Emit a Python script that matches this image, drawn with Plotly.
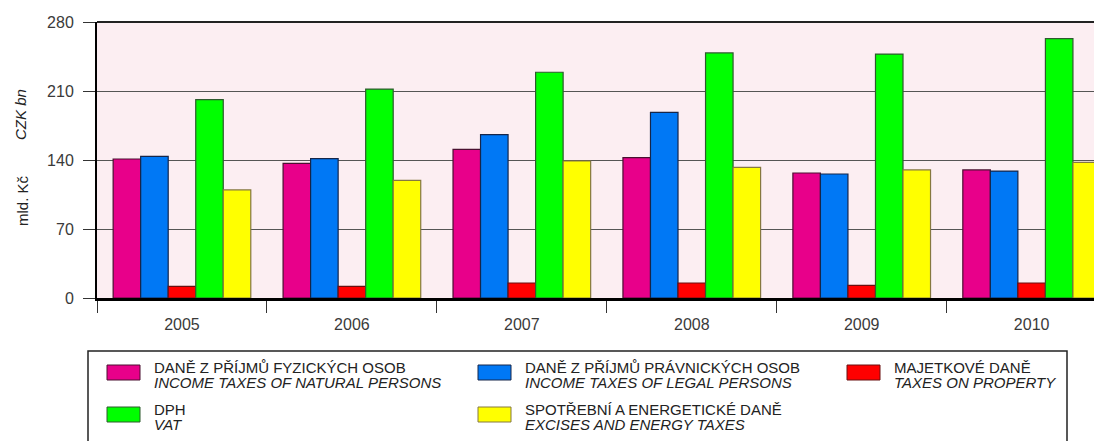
import plotly.graph_objects as go

# ---- data ----
years = ["2005", "2006", "2007", "2008", "2009", "2010"]
pit = [141.0, 136.6, 150.8, 142.4, 126.8, 129.9]       # income taxes of natural persons
cit = [143.7, 141.4, 165.7, 188.4, 125.8, 128.8]       # income taxes of legal persons
prop = [11.8, 11.8, 15.2, 15.2, 12.9, 15.2]            # taxes on property
vat = [201.2, 212.0, 229.0, 248.6, 247.5, 263.1]       # VAT
excise = [109.6, 119.4, 139.0, 132.6, 129.9, 137.6]    # excises and energy taxes

names_cz = ["DANĚ Z PŘÍJMŮ FYZICKÝCH OSOB", "DANĚ Z PŘÍJMŮ PRÁVNICKÝCH OSOB",
            "MAJETKOVÉ DANĚ", "DPH", "SPOTŘEBNÍ A ENERGETICKÉ DANĚ"]
names_en = ["INCOME TAXES OF NATURAL PERSONS", "INCOME TAXES OF LEGAL PERSONS",
            "TAXES ON PROPERTY", "VAT", "EXCISES AND ENERGY TAXES"]
y_ticks = [0, 70, 140, 210, 280]

series = [pit, cit, prop, vat, excise]
colors = ["#E8008A", "#0078F5", "#FF0000", "#00FF00", "#FFFF00"]
outlines = ["#4a1030", "#16264a", "#6a1010", "#2e5a2e", "#857840"]

OFF = 8  # page body margin
W, H = 1102 - OFF, 441 - OFF
L, R, T, B = 97 - OFF, 0, 22 - OFF, 143
PW, PH = W - L - R, H - T - B
FONT = "Liberation Sans, Arial, sans-serif"


def px(x):
    return (x - OFF - L) / PW


def py(y):
    return (H - B - (y - OFF)) / PH


fig = go.Figure()
for vals, name, c, oc in zip(series, names_en, colors, outlines):
    fig.add_trace(go.Bar(x=years, y=vals, name=name, marker=dict(color=c, line=dict(color=oc, width=1.2)),
                         showlegend=False))

fig.update_layout(
    width=W, height=H,
    margin=dict(l=L, r=R, t=T, b=B, pad=0),
    paper_bgcolor="white",
    plot_bgcolor="#FCEEF2",
    barmode="group", bargap=0.19, bargroupgap=0,
    font=dict(family=FONT, color="#333333", size=15),
)
fig.update_xaxes(
    type="category", range=[-0.5, 5.414],
    tickson="boundaries", ticks="outside", ticklen=12, tickcolor="#333", tickwidth=1,
    showline=True, linecolor="black", linewidth=2.5, mirror=False,
    showgrid=False, tickfont=dict(size=16, color="#3a3a3a"), ticklabelstandoff=10,
)
fig.update_yaxes(
    range=[0, 280], tickvals=y_ticks, ticks="outside", ticklen=12, tickcolor="#333",
    showgrid=True, gridcolor="#555555", gridwidth=1,
    showline=True, linecolor="black", linewidth=2,
    zeroline=False, tickfont=dict(size=16, color="#3a3a3a"), ticklabelstandoff=6,
)
# top border line
fig.add_shape(type="line", xref="paper", yref="paper", x0=0, x1=1, y0=1, y1=1,
              line=dict(color="#222", width=2))

# y titles
fig.add_annotation(xref="paper", yref="paper", x=px(22), y=py(201), text="mld. Kč",
                   xanchor="center", yanchor="middle",
                   textangle=-90, showarrow=False, font=dict(size=15, color="#222"))
fig.add_annotation(xref="paper", yref="paper", x=px(20), y=py(115), text="<i>CZK bn</i>",
                   xanchor="center", yanchor="middle",
                   textangle=-90, showarrow=False, font=dict(size=15, color="#222"))

# legend box
fig.add_shape(type="rect", xref="paper", yref="paper", x0=px(88), x1=px(1067), y0=py(351), y1=py(470),
              line=dict(color="#222", width=1.5), fillcolor="white", layer="above")
cols = [107, 478, 847]
rows = [365, 407]
slots = [(0, 0), (1, 0), (2, 0), (0, 1), (1, 1)]
for i, (ci, ri) in enumerate(slots):
    x0, y0 = cols[ci], rows[ri]
    fig.add_shape(type="rect", xref="paper", yref="paper", x0=px(x0), x1=px(x0 + 33), y0=py(y0), y1=py(y0 + 15),
                  fillcolor=colors[i], line=dict(color=outlines[i], width=1), layer="above")
    fig.add_annotation(xref="paper", yref="paper", x=px(x0 + 45), y=py(y0 + 2.5), text=names_cz[i],
                       xanchor="left", yanchor="middle", showarrow=False,
                       font=dict(size=15, color="#222"))
    fig.add_annotation(xref="paper", yref="paper", x=px(x0 + 45), y=py(y0 + 17.5), text="<i>" + names_en[i] + "</i>",
                       xanchor="left", yanchor="middle", showarrow=False,
                       font=dict(size=15, color="#222"))

fig.write_html("out.html")
